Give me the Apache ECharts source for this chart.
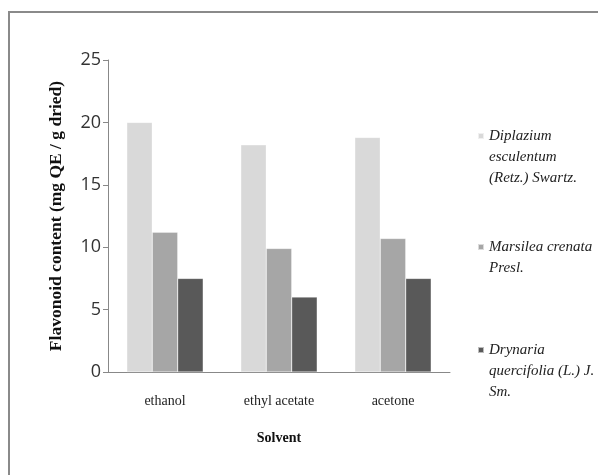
<!DOCTYPE html>
<html>
<head>
<meta charset="utf-8">
<script src="https://cdn.jsdelivr.net/npm/echarts@6/dist/echarts.min.js"></script>
<style>html,body{margin:0;padding:0;background:#fff;}#c{width:598px;height:475px;}</style>
</head>
<body>
<div id="c"></div>
<script>
const categories = ['ethanol', 'ethyl acetate', 'acetone'];
const seriesNames = ['Diplazium esculentum (Retz.) Swartz.', 'Marsilea crenata Presl.', 'Drynaria quercifolia (L.) J. Sm.'];
const legendLabels = [['Diplazium', 'esculentum', '(Retz.) Swartz.'], ['Marsilea crenata', 'Presl.'], ['Drynaria', 'quercifolia (L.) J.', 'Sm.']];
const diplazium = [20.0, 18.2, 18.8];
const marsilea = [11.2, 9.9, 10.7];
const drynaria = [7.5, 6.0, 7.5];
const yTicks = [0, 5, 10, 15, 20, 25];
const colors = ['#d9d9d9', '#a6a6a6', '#595959'];
const values = [diplazium, marsilea, drynaria];

const chart = echarts.init(document.getElementById('c'));
const legendFirstLine = [136, 247, 350];
const LH = 21;
const legends = seriesNames.map((n, i) => {
  const lines = legendLabels[i];
  const k = lines.length;
  // prepend blank lines so the icon sits beside the first text line
  const text = '\n'.repeat(k - 1) + lines.join('\n');
  return {
    data: [n],
    orient: 'vertical',
    left: 477,
    top: legendFirstLine[i] - (2 * k - 1) * LH / 2,
    padding: 0,
    itemWidth: 6,
    itemHeight: 6,
    icon: 'rect',
    formatter: () => text,
    selectedMode: false,
    textStyle: {
      fontFamily: 'Liberation Serif, serif',
      fontStyle: 'italic',
      fontSize: 15,
      color: '#222',
      lineHeight: LH
    }
  };
});

chart.setOption({
  animation: false,
  backgroundColor: '#fff',
  graphic: [
    { type: 'line', shape: { x1: 8, y1: 12, x2: 598, y2: 12 }, style: { stroke: '#8a8a8a', lineWidth: 2 } },
    { type: 'line', shape: { x1: 9, y1: 11, x2: 9, y2: 475 }, style: { stroke: '#8a8a8a', lineWidth: 2 } }
  ],
  legend: legends,
  grid: { left: 108, right: 148, top: 60, bottom: 103 },
  xAxis: {
    type: 'category',
    data: categories,
    name: 'Solvent',
    nameLocation: 'middle',
    nameGap: 59,
    nameTextStyle: { fontFamily: 'Liberation Serif, serif', fontWeight: 'bold', fontSize: 14, color: '#111' },
    axisLine: { lineStyle: { color: '#888', width: 1 } },
    axisTick: { show: false },
    axisLabel: { margin: 22, fontFamily: 'Liberation Serif, serif', fontSize: 14, color: '#222' }
  },
  yAxis: {
    type: 'value',
    min: 0,
    max: 25,
    interval: 5,
    name: 'Flavonoid content (mg QE / g dried)',
    nameLocation: 'middle',
    nameGap: 43,
    nameTextStyle: { fontFamily: 'Liberation Serif, serif', fontWeight: 'bold', fontSize: 17.5, color: '#111' },
    axisLine: { show: true, lineStyle: { color: '#888', width: 1 } },
    axisTick: { show: true, length: 5, lineStyle: { color: '#888' } },
    splitLine: { show: false },
    axisLabel: {
      margin: 7,
      fontFamily: 'Open Sans, sans-serif',
      fontSize: 18,
      color: '#333',
      formatter: v => yTicks.includes(v) ? String(v) : ''
    }
  },
  series: values.map((d, i) => ({
    name: seriesNames[i],
    type: 'bar',
    data: d,
    barGap: '0%',
    barCategoryGap: '33%',
    itemStyle: { color: colors[i], borderColor: 'rgba(255,255,255,0.6)', borderWidth: 0.5 }
  }))
});
</script>
</body>
</html>
